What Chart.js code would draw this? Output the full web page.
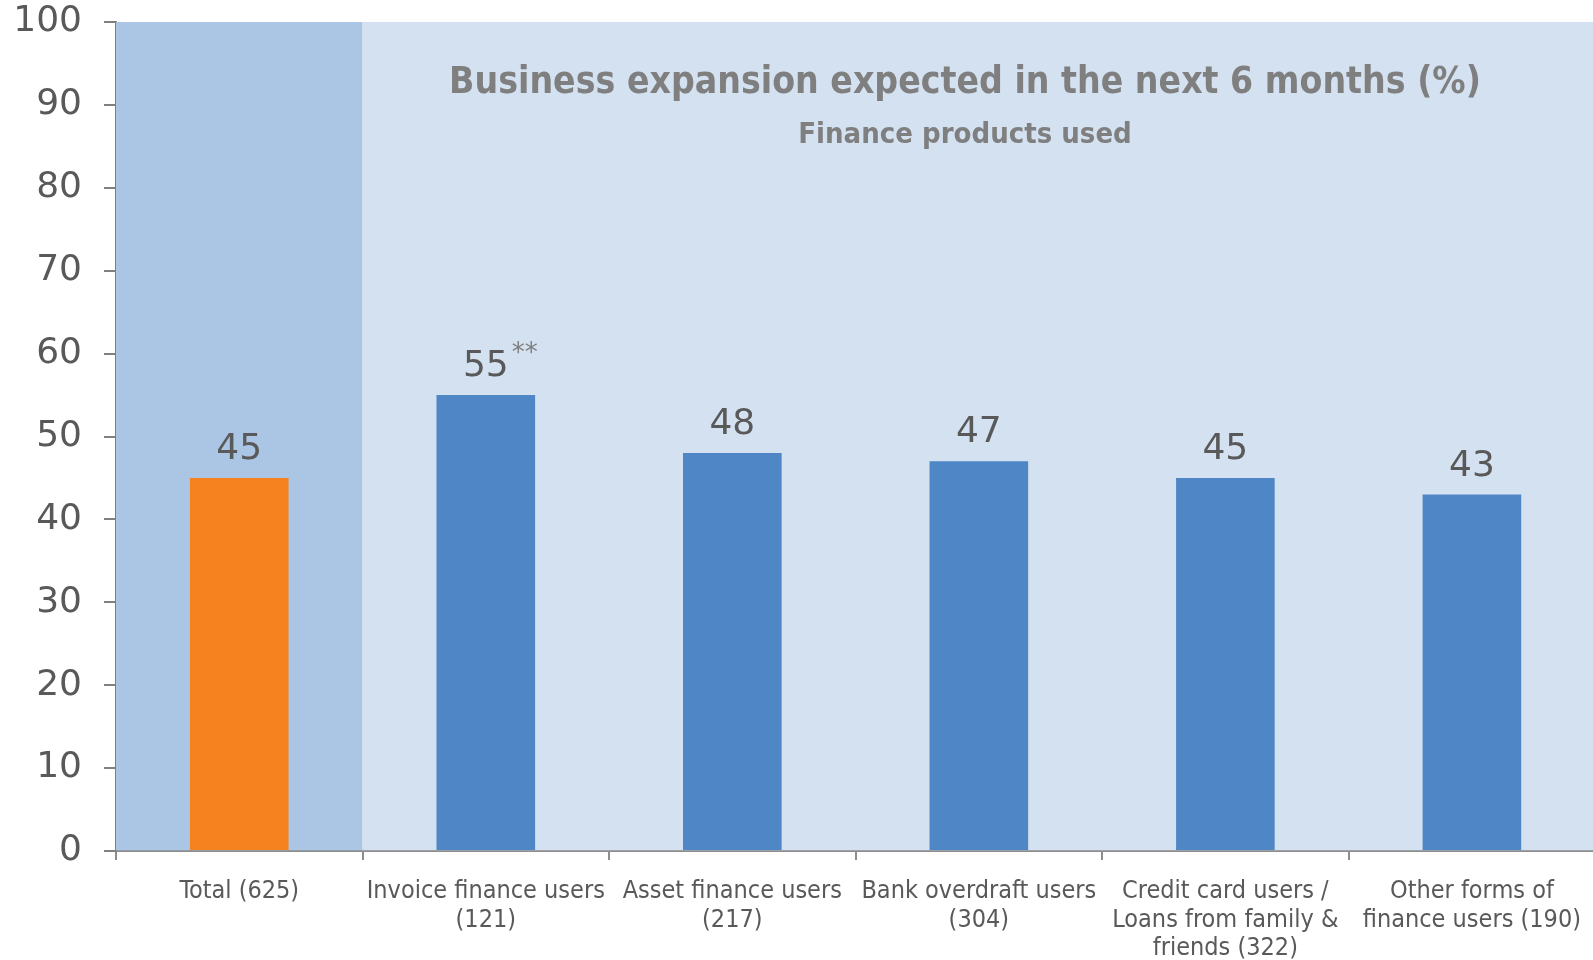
<!DOCTYPE html>
<html>
<head>
<meta charset="utf-8">
<script src="https://cdn.jsdelivr.net/npm/chart.js@4"></script>
<style>
    body { margin: 0; background: #fff; overflow: hidden; }
    #frame { width: 1593px; height: 960px; overflow: hidden; }
    #wrap { width: 1598px; height: 960px; position: relative; }
</style>
</head>
<body>
<div id="frame"><div id="wrap"><canvas id="chart"></canvas></div></div>
<script>
const categories = [
    ["Total (625)"],
    ["Invoice finance users", "(121)"],
    ["Asset finance users", "(217)"],
    ["Bank overdraft users", "(304)"],
    ["Credit card users /", "Loans from family &", "friends (322)"],
    ["Other forms of", "finance users (190)"],
];
const expansionPct = [45, 55, 48, 47, 45, 43];
const labelNotes = ["", "**", "", "", "", ""];
const bandValues = [100, 100, 100, 100, 100, 100];
const yTicks = [0, 10, 20, 30, 40, 50, 60, 70, 80, 90, 100];

const titleText = "Business expansion expected in the next 6 months (%)";
const subtitleText = "Finance products used";

const barColors = ["#F5821F", "#4F86C6", "#4F86C6", "#4F86C6", "#4F86C6", "#4F86C6"];
const bandColors = ["#ABC6E4", "#D4E1F1", "#D4E1F1", "#D4E1F1", "#D4E1F1", "#D4E1F1"];

const valueLabels = {
    id: "valueLabels",
    afterDatasetsDraw(chart) {
        const ctx = chart.ctx;
        const meta = chart.getDatasetMeta(1);
        ctx.save();
        meta.data.forEach((bar, i) => {
            const txt = String(expansionPct[i]);
            ctx.font = "36px 'DejaVu Sans'";
            ctx.fillStyle = "#595959";
            ctx.textAlign = "center";
            ctx.textBaseline = "alphabetic";
            ctx.fillText(txt, bar.x, bar.y - 19);
            if (labelNotes[i]) {
                const w = ctx.measureText(txt).width;
                ctx.font = "26px 'DejaVu Sans'";
                ctx.fillStyle = "#7f7f7f";
                ctx.textAlign = "left";
                ctx.fillText(labelNotes[i], bar.x + w / 2 + 3, bar.y - 34);
            }
        });
        ctx.restore();
    },
};

const innerTitle = {
    id: "innerTitle",
    afterDraw(chart) {
        const ctx = chart.ctx;
        ctx.save();
        ctx.fillStyle = "#7f7f7f";
        ctx.textAlign = "center";
        ctx.textBaseline = "middle";
        ctx.font = "bold 37px 'DejaVu Sans Condensed'";
        ctx.fillText(titleText, 965, 83);
        ctx.font = "bold 29px 'DejaVu Sans Condensed'";
        ctx.fillText(subtitleText, 965, 135);
        ctx.restore();
    },
};

new Chart(document.getElementById("chart"), {
    type: "bar",
    data: {
        labels: categories,
        datasets: [
            {
                label: "band",
                data: bandValues,
                backgroundColor: bandColors,
                barPercentage: 1,
                categoryPercentage: 1,
                grouped: false,
                order: 2,
            },
            {
                label: "Business expansion expected",
                data: expansionPct,
                backgroundColor: barColors,
                barPercentage: 0.4,
                categoryPercentage: 1,
                grouped: false,
                order: 1,
            },
        ],
    },
    options: {
        responsive: true,
        maintainAspectRatio: false,
        animation: false,
        layout: { padding: 0 },
        plugins: {
            legend: { display: false },
            tooltip: { enabled: false },
        },
        scales: {
            x: {
                grid: {
                    offset: true,
                    drawOnChartArea: false,
                    tickLength: 9,
                    color: "#8c8c8c",
                    lineWidth: 2,
                },
                border: { color: "#8c8c8c", width: 2 },
                ticks: {
                    color: "#595959",
                    font: { family: "'DejaVu Sans Condensed'", size: 25, lineHeight: 1.15 },
                    padding: 17,
                    maxRotation: 0,
                    autoSkip: false,
                },
                afterFit(scale) { scale.height = 109; },
            },
            y: {
                min: 0,
                max: 100,
                afterBuildTicks(scale) { scale.ticks = yTicks.map((v) => ({ value: v })); },
                grid: {
                    drawOnChartArea: false,
                    tickLength: 12,
                    color: "#808080",
                    lineWidth: 2,
                },
                border: { color: "#808080", width: 2 },
                ticks: {
                    color: "#595959",
                    font: { family: "'DejaVu Sans'", size: 36 },
                    padding: 22,
                },
                afterFit(scale) {
                    scale.width = 116;
                    scale.paddingTop = 22;
                    scale.paddingBottom = 0;
                },
            },
        },
    },
    plugins: [valueLabels, innerTitle],
});
</script>
</body>
</html>
